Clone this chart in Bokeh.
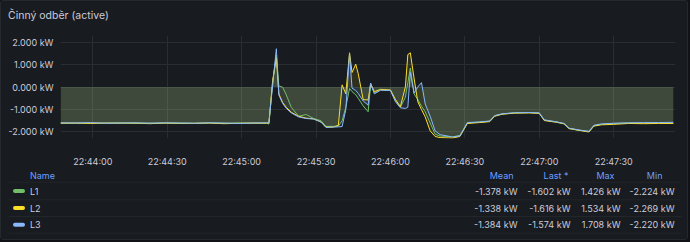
import pandas as pd
from bokeh.plotting import figure
from bokeh.models import Range1d, FixedTicker, PrintfTickFormatter, DatetimeTickFormatter
from bokeh.layouts import column
from bokeh.core.properties import value
from bokeh.embed import file_html
from bokeh.resources import INLINE

# ---------------- data ----------------
title_text = "Činný odběr (active)"
base_time = "2024-01-01 22:44:00"

# seconds relative to 22:44:00
t_sec = [-13, -7, -1, 5, 11, 17, 23, 29, 35, 41, 47, 53, 59, 65, 70,
         71, 72.5, 74, 75, 76.5, 78, 80, 83, 86, 89,
         92, 94, 97, 99, 100.5, 102, 103.5, 104.5, 106, 107,
         109, 111, 112, 113.5, 116, 120, 122, 124, 126, 127,
         128, 129.5, 131, 132.5, 134, 136, 138, 140, 145, 148,
         151, 156, 160, 162, 165, 170, 176, 180, 182, 187,
         190, 192, 196, 200, 202, 205, 210, 216, 222, 228,
         234]

l1_kw = [-1.60, -1.61, -1.60, -1.61, -1.59, -1.62, -1.60, -1.61, -1.60, -1.62, -1.60, -1.61, -1.60, -1.61, -1.60,
         -1.65, 0.20, 1.43, 0.05, 0.00, -0.35, -0.90, -1.30, -1.22, -1.40,
         -1.50, -1.75, -1.75, -1.74, -1.50, -0.90, -0.06, -0.20, -0.34, -0.50,
         -0.84, -1.10, 0.10, -0.25, -0.12, -0.14, -0.60, -0.90, -0.45, 0.20,
         0.85, -0.30, -0.55, -0.85, -1.10, -1.60, -2.10, -2.18, -2.22, -2.15,
         -1.60, -1.56, -1.52, -1.28, -1.20, -1.15, -1.14, -1.16, -1.47, -1.55,
         -1.63, -1.84, -1.92, -1.98, -1.72, -1.66, -1.62, -1.60, -1.61, -1.59,
         -1.60]

l2_kw = [-1.61, -1.60, -1.62, -1.60, -1.61, -1.60, -1.63, -1.60, -1.62, -1.61, -1.60, -1.63, -1.61, -1.60, -1.61,
         -1.60, 0.30, 1.30, -0.30, -0.68, -0.90, -1.12, -1.30, -1.38, -1.42,
         -1.55, -1.78, -1.78, -1.70, 0.10, -0.30, 1.53, 0.65, 1.02, 0.60,
         -0.56, -0.57, 0.15, -0.20, -0.10, -0.13, -0.55, -0.87, 0.00, 1.45,
         1.53, 0.40, -0.65, -1.00, -1.33, -1.95, -2.20, -2.25, -2.27, -2.20,
         -1.62, -1.58, -1.54, -1.30, -1.21, -1.16, -1.15, -1.17, -1.49, -1.57,
         -1.64, -1.85, -1.93, -2.00, -1.74, -1.68, -1.66, -1.62, -1.63, -1.62,
         -1.62]

l3_kw = [-1.59, -1.60, -1.58, -1.61, -1.60, -1.59, -1.61, -1.59, -1.60, -1.61, -1.59, -1.60, -1.62, -1.60, -1.59,
         -1.58, 0.10, 1.71, -0.35, -0.72, -0.95, -1.15, -1.33, -1.40, -1.42,
         -1.56, -1.80, -1.78, -1.77, -1.76, -1.00, 1.50, -0.05, -0.15, -0.28,
         -0.62, -0.80, 0.18, -0.30, -0.14, -0.15, -0.65, -0.92, -0.95, -0.90,
         0.65, -0.27, 0.00, 0.20, -0.75, -1.30, -1.95, -2.12, -2.22, -2.18,
         -1.58, -1.55, -1.51, -1.27, -1.19, -1.14, -1.13, -1.15, -1.46, -1.55,
         -1.62, -1.83, -1.91, -1.97, -1.70, -1.64, -1.61, -1.59, -1.58, -1.58,
         -1.57]

series_names = ["L1", "L2", "L3"]
series_colors = ["#73BF69", "#FADE2A", "#8AB8FF"]

y_ticks = [-2, -1, 0, 1, 2]
x_tick_labels = ["22:44:00", "22:44:30", "22:45:00", "22:45:30",
                 "22:46:00", "22:46:30", "22:47:00", "22:47:30"]

stat_headers = ["Mean", "Last *", "Max", "Min"]
mean_vals = ["-1.378 kW", "-1.338 kW", "-1.384 kW"]
last_vals = ["-1.602 kW", "-1.616 kW", "-1.574 kW"]
max_vals = ["1.426 kW", "1.534 kW", "1.708 kW"]
min_vals = ["-2.224 kW", "-2.269 kW", "-2.220 kW"]

# ---------------- style ----------------
BG = "#181b1f"
OUTER = "#111217"
TXT = "#ccccdc"
HEAD = "#6e9fff"
GRID = "#2a2d32"
FONT = "Inter"
W = 686


def no_align(fig):
    try:
        fig.frame_align = False
    except Exception:
        pass
    return fig


base = pd.Timestamp(base_time)
base_ms = base.value / 1e6
x_ms = [base_ms + t * 1000.0 for t in t_sec]
tick_ms = [pd.Timestamp("2024-01-01 " + s).value / 1e6 for s in x_tick_labels]

# ---------------- title ----------------
pt = figure(width=W, height=30, x_range=Range1d(0, W), y_range=Range1d(30, 0),
            output_backend="svg", toolbar_location=None, min_border=0,
            x_axis_location=None, y_axis_location=None,
            background_fill_color=BG, border_fill_color=BG, outline_line_color=None)
no_align(pt)
pt.grid.visible = False
pt.text(x=[6.5], y=[13.5], text=[title_text], text_align="left", text_baseline="middle",
        text_font=value(FONT), text_font_size="10.5px", text_color=TXT)

# ---------------- chart ----------------
p = figure(width=W, height=138,
           x_range=Range1d(base_ms - 13.02 * 1000, base_ms + 234.9 * 1000),
           y_range=Range1d(-2.29, 2.30),
           x_axis_type="datetime",
           output_backend="svg", toolbar_location=None,
           min_border_left=59, min_border_right=12, min_border_top=4, min_border_bottom=27,
           background_fill_color=BG, border_fill_color=BG, outline_line_color=None)
no_align(p)

for vals, c in zip([l1_kw, l2_kw, l3_kw], series_colors):
    p.varea(x=x_ms, y1=[0.0] * len(vals), y2=vals, fill_color=c, fill_alpha=0.1)
for vals, c in zip([l1_kw, l2_kw, l3_kw], series_colors):
    p.line(x=x_ms, y=vals, line_color=c, line_width=1)

p.xaxis.ticker = FixedTicker(ticks=tick_ms)
p.xaxis.formatter = DatetimeTickFormatter(seconds="%H:%M:%S", minsec="%H:%M:%S",
                                          minutes="%H:%M:%S", hourmin="%H:%M:%S",
                                          hours="%H:%M:%S")
p.yaxis.ticker = FixedTicker(ticks=y_ticks)
p.yaxis.formatter = PrintfTickFormatter(format="%.3f kW")

for ax in (p.xaxis[0], p.yaxis[0]):
    ax.axis_line_color = None
    ax.major_tick_line_color = None
    ax.minor_tick_line_color = None
    ax.major_tick_out = 0
    ax.major_tick_in = 0
    ax.minor_tick_out = 0
    ax.major_label_text_font = FONT
    ax.major_label_text_font_size = "9px"
    ax.major_label_text_color = TXT
p.xaxis.major_label_standoff = 17
p.yaxis.major_label_standoff = 7
p.xgrid.grid_line_color = GRID
p.ygrid.grid_line_color = GRID

# ---------------- legend table ----------------
tb = figure(width=W, height=70, x_range=Range1d(0, W), y_range=Range1d(70, 0),
            output_backend="svg", toolbar_location=None, min_border=0,
            x_axis_location=None, y_axis_location=None,
            background_fill_color=BG, border_fill_color=BG, outline_line_color=None)
no_align(tb)
tb.grid.visible = False

head_y = 6
row_y = [21.5, 38.5, 55.3]
sep_y = [12.7, 30.3, 47.0, 63.7]
head_right = [512, 567, 613, 661]
val_right = [516, 569, 619, 673]

tb.segment(x0=[7] * 4, x1=[680] * 4, y0=sep_y, y1=sep_y, line_color="#222529", line_width=1)
tb.text(x=[28.5], y=[head_y], text=["Name"], text_align="left", text_baseline="middle",
        text_font=value(FONT), text_font_size="9px", text_color=HEAD)
tb.text(x=head_right, y=[head_y] * 4, text=stat_headers, text_align="right", text_baseline="middle",
        text_font=value(FONT), text_font_size="9px", text_color=HEAD)
tb.segment(x0=[13.5] * 3, x1=[21.5] * 3, y0=row_y, y1=row_y, line_color=series_colors,
           line_width=4, line_cap="round")
tb.text(x=[28.5] * 3, y=row_y, text=series_names, text_align="left", text_baseline="middle",
        text_font=value(FONT), text_font_size="9px", text_color=TXT)
for j, col in enumerate([mean_vals, last_vals, max_vals, min_vals]):
    tb.text(x=[val_right[j]] * 3, y=row_y, text=col, text_align="right", text_baseline="middle",
            text_font=value(FONT), text_font_size="9px", text_color=TXT)

inner = column(pt, p, tb, spacing=0,
               styles={"border": "1px solid #25282d", "border-radius": "3px",
                       "overflow": "hidden", "background-color": BG})
outer = column(inner, width=690, height=242, spacing=0,
               styles={"background-color": OUTER})

open("out.html", "w").write(file_html(outer, INLINE))
